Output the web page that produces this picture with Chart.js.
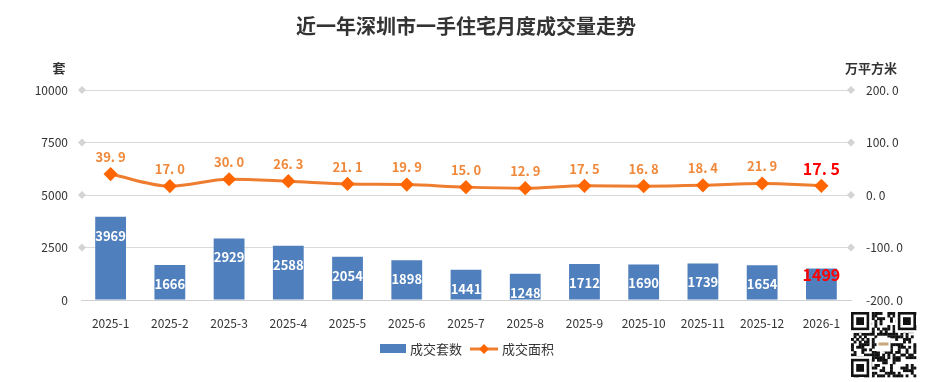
<!DOCTYPE html>
<html><head><meta charset="utf-8">
<script src="https://cdn.jsdelivr.net/npm/chart.js@4"></script>
<style>html,body{margin:0;padding:0;background:#fff}#wrap{width:928px;height:382px;position:relative}</style>
</head><body><div id="wrap"><canvas id="c" width="928" height="382"></canvas></div>
<script>
const categories = ['2025-1','2025-2','2025-3','2025-4','2025-5','2025-6','2025-7','2025-8','2025-9','2025-10','2025-11','2025-12','2026-1'];
const units = [3969,1666,2929,2588,2054,1898,1441,1248,1712,1690,1739,1654,1499];
const area = [39.9,17.0,30.0,26.3,21.1,19.9,15.0,12.9,17.5,16.8,18.4,21.9,17.5];
const leftTicks = [0,2500,5000,7500,10000];
const rightTicks = [-200,-100,0,100,200];
const FONT = '"Noto Sans CJK SC","Noto Sans",sans-serif';

const deco = {
  id:'deco',
  afterDraw(chart){
    const ctx = chart.ctx, ca = chart.chartArea, yL = chart.scales.y;
    ctx.save();
    ctx.fillStyle = '#D4D4D4';
    leftTicks.forEach(v=>{
      const y = yL.getPixelForValue(v);
      [ca.left+1, ca.right].forEach(x=>{
        if (v===0) return;
        ctx.beginPath(); ctx.moveTo(x,y-4); ctx.lineTo(x+4,y); ctx.lineTo(x,y+4); ctx.lineTo(x-4,y); ctx.closePath(); ctx.fill();
      });
    });
    const bm = chart.getDatasetMeta(0);
    ctx.textAlign='center'; ctx.textBaseline='middle';
    bm.data.forEach((el,i)=>{
      const last = i===units.length-1;
      ctx.font = (last?'bold 16px ':'bold 13px ')+FONT;
      ctx.fillStyle = last?'#FF0000':'#FFFFFF';
      ctx.fillText(String(units[i]), el.x, last? el.y+6 : el.y+19);
    });
    const lm = chart.getDatasetMeta(1);
    lm.data.forEach((el,i)=>{
      const last = i===area.length-1;
      ctx.font = (last?'bold 16px ':'bold 13px ')+FONT;
      ctx.fillStyle = last?'#FF0000':'#F0883A';
      ctx.fillText(area[i].toFixed(1).replace('.', '. '), el.x, el.y-17);
    });
    ctx.fillStyle='#333';
    ctx.font='bold 20px '+FONT;
    ctx.fillText('近一年深圳市一手住宅月度成交量走势', 466, 26);
    ctx.font='bold 13px '+FONT;
    ctx.fillText('套', 59, 68);
    ctx.fillText('万平方米', 871, 68);
    ctx.fillStyle='#4F7FBC'; ctx.fillRect(380,344,26,9);
    ctx.fillStyle='#333'; ctx.font='13px '+FONT; ctx.textAlign='left';
    ctx.fillText('成交套数', 410, 349);
    ctx.strokeStyle='#F08030'; ctx.lineWidth=3;
    ctx.beginPath(); ctx.moveTo(470,349); ctx.lineTo(498,349); ctx.stroke();
    ctx.fillStyle='#FF6600';
    ctx.beginPath(); ctx.moveTo(484,344); ctx.lineTo(489,349); ctx.lineTo(484,354); ctx.lineTo(479,349); ctx.closePath(); ctx.fill();
    ctx.fillStyle='#333';
    ctx.fillText('成交面积', 502, 349);
    const qx=851, qy=312, s=65, n=25, c=s/n;
    ctx.fillStyle='#111';
    let seed=7;
    for(let r=0;r<n;r++)for(let k=0;k<n;k++){
      seed=(seed*1103515245+12345)&0x7fffffff;
      if((seed>>16)%2) ctx.fillRect(qx+k*c,qy+r*c,c+0.3,c+0.3);
    }
    const finder=(x,y)=>{ctx.fillStyle='#111';ctx.fillRect(x,y,7*c,7*c);ctx.fillStyle='#fff';ctx.fillRect(x+c,y+c,5*c,5*c);ctx.fillStyle='#111';ctx.fillRect(x+2*c,y+2*c,3*c,3*c);};
    ctx.fillStyle='#fff';
    ctx.fillRect(qx,qy,8*c,8*c);ctx.fillRect(qx+s-8*c,qy,8*c,8*c);ctx.fillRect(qx,qy+s-8*c,8*c,8*c);
    finder(qx,qy);finder(qx+s-7*c,qy);finder(qx,qy+s-7*c);
    ctx.fillStyle='#fff';ctx.fillRect(qx+s/2-7,qy+s/2-7,14,14);
    ctx.fillStyle='#C8A878';ctx.fillRect(qx+s/2-5,qy+s/2-2,10,3);
    ctx.restore();
  }
};

new Chart(document.getElementById('c'),{
  data:{
    labels:categories,
    datasets:[
      {type:'bar',label:'成交套数',data:units,yAxisID:'y',backgroundColor:'#4F7FBC',barPercentage:0.52,categoryPercentage:1,order:2},
      {type:'line',label:'成交面积',data:area,yAxisID:'y1',borderColor:'#EE7D30',borderWidth:3,tension:0.4,cubicInterpolationMode:'monotone',
       pointStyle:'rectRot',pointRadius:5,pointBackgroundColor:'#FF6600',pointBorderColor:'#FF6600',order:1}
    ]
  },
  options:{
    responsive:false,animation:false,
    layout:{padding:{top:90,left:0,right:0,bottom:0}},
    plugins:{legend:{display:false},tooltip:{enabled:false},title:{display:false}},
    scales:{
      x:{grid:{display:false},border:{color:'#D0D0D0',width:1},
         ticks:{color:'#333',font:{size:12,family:FONT},padding:8,maxRotation:0},
         afterFit(s){s.height=82;}},
      y:{position:'left',min:0,max:10000,afterBuildTicks(s){s.ticks=leftTicks.map(v=>({value:v}));},
         grid:{color:'#DADADA',drawTicks:false},border:{display:false},
         ticks:{color:'#333',font:{size:12,family:FONT},padding:13,callback:v=>String(v)},
         afterFit(s){s.width=81;}},
      y1:{position:'right',min:-200,max:200,afterBuildTicks(s){s.ticks=rightTicks.map(v=>({value:v}));},
         grid:{display:false},border:{display:false},
         ticks:{color:'#333',font:{size:12,family:FONT},padding:7,callback:v=>v.toFixed(1).replace('.', '. ')},
         afterFit(s){s.width=77;}}
    }
  },
  plugins:[deco]
});
</script></body></html>
